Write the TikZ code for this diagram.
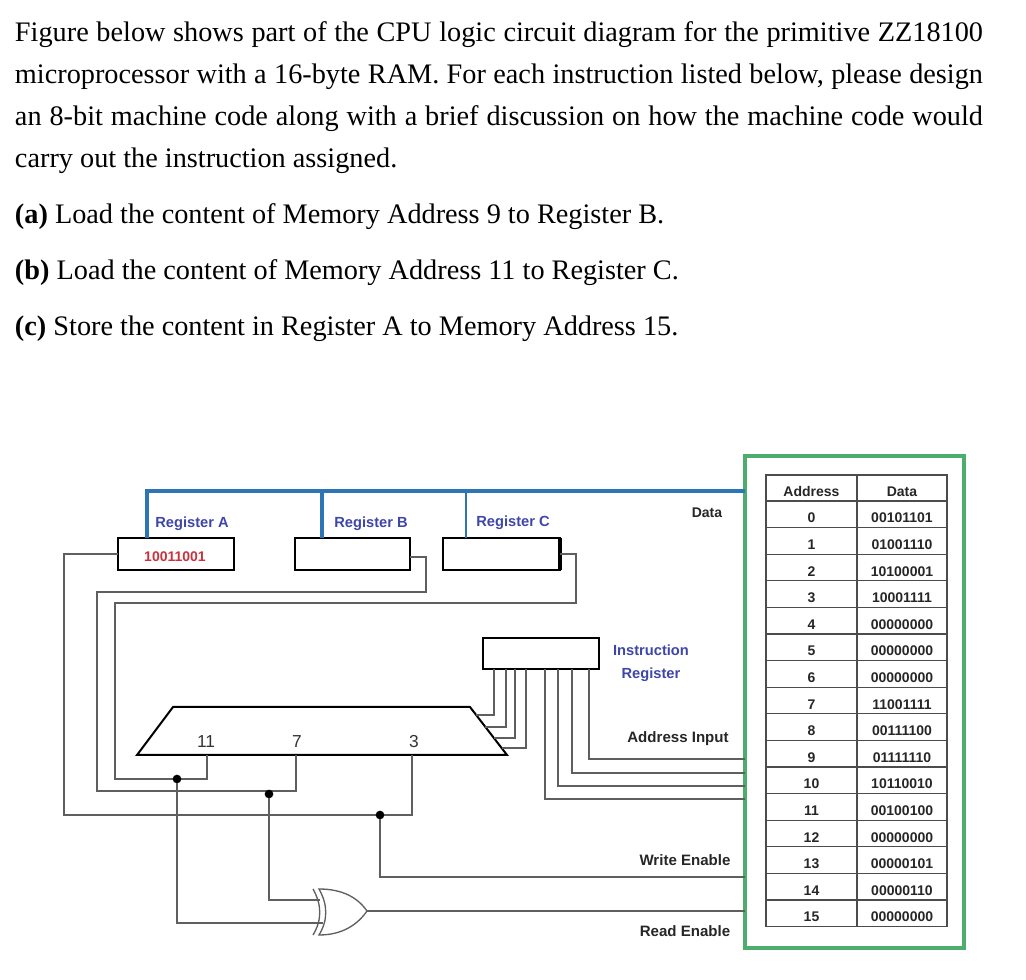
\documentclass[tikz,border=0pt]{standalone}
\usepackage{fontspec}
\setmainfont{Liberation Serif}
\setsansfont{Liberation Sans}
\usetikzlibrary{calc}
\definecolor{busblue}{RGB}{46,117,182}
\definecolor{ramgreen}{RGB}{76,173,108}
\definecolor{labelblue}{RGB}{62,70,168}
\definecolor{wiregray}{RGB}{95,95,95}
\definecolor{valuered}{RGB}{200,50,60}
\newcommand{\celltext}[1]{\raisebox{-6.5pt}[0pt][0pt]{#1}}
\tikzset{
	para/.style={anchor=north west,inner sep=0,outer sep=0,font=\fontsize{21.2}{31.5}\selectfont},
	reg/.style={draw=black,line width=1.5pt,minimum height=24pt,inner sep=0,outer sep=0},
	wire/.style={draw=wiregray,line width=1pt},
	bus/.style={draw=busblue,line width=2.6pt},
	joint/.style={circle,fill=black,minimum size=6.5pt,inner sep=0,outer sep=0},
	reglabel/.style={font=\sffamily\bfseries\fontsize{11}{13}\selectfont,text=labelblue,align=center},
	siglabel/.style={font=\sffamily\bfseries\fontsize{11.3}{13}\selectfont,text=black!85},
	bitlabel/.style={font=\sffamily\fontsize{13}{15}\selectfont,text=black!80},
	cell/.style={draw=black!70,line width=.8pt,minimum height=19.95pt,inner sep=0,outer sep=0,font=\sffamily\bfseries\fontsize{10.5}{13}\selectfont,text=black!85},
}
\begin{document}
\begin{tikzpicture}[x=.75pt,y=-.75pt]
	\useasboundingbox (0,0) rectangle (1026,980);
	\node[para,text width=726pt,align=justify] (intro) at (15,22) {Figure below shows part of the CPU logic circuit diagram for the primitive ZZ18100\linebreak microprocessor with a 16-byte RAM. For each instruction listed below, please design\linebreak an 8-bit machine code along with a brief discussion on how the machine code would\linebreak carry out the instruction assigned.};
	\foreach \n/\y/\t in {a/204/Load the content of Memory Address 9 to Register B.,b/260/Load the content of Memory Address 11 to Register C.,c/316/Store the content in Register A to Memory Address 15.} \node[para] (part\n) at (15,\y) {\textbf{(\n)} \t};

	\node[draw=ramgreen,line width=3pt,minimum width=164.25pt,minimum height=369pt,inner sep=0,outer sep=0] (ram) at (854.5,702) {};
	\node[cell,minimum width=68.25pt,anchor=north west] (addrhead) at (766,475) {\celltext{Address}};
	\node[cell,minimum width=67.5pt,anchor=north west] (datahead) at (857,475) {\celltext{Data}};
	\foreach \d [count=\i from 0] in {00101101,01001110,10100001,10001111,00000000,00000000,00000000,11001111,00111100,01111110,10110010,00100100,00000000,00000101,00000110,00000000} {
		\node[cell,minimum width=68.25pt,anchor=north west] (addr\i) at (766,501+26.6*\i) {\celltext{\i}};
		\node[cell,minimum width=67.5pt,anchor=north west] (data\i) at (857,501+26.6*\i) {\celltext{\d}};
	}

	\node[reg,minimum width=87pt] (regA) at (176,554) {};
	\node[reg,minimum width=86.25pt] (regB) at (352.5,554) {};
	\node[reg,minimum width=87.75pt] (regC) at (501.5,554) {};
	\node[reg,minimum width=87pt,minimum height=23.25pt] (instr) at (541,653.5) {};
	\coordinate (muxBL) at (137,755);
	\coordinate (muxTL) at (173,707);
	\coordinate (muxTR) at (470,707);
	\coordinate (muxBR) at (507,755);
	\draw[black,line width=1.5pt,line join=miter] (muxBL) -- (muxTL) -- (muxTR) -- (muxBR) -- cycle;
	\draw[line width=3.5pt] (regC.north east) -- (regC.south east);

	\coordinate (xorIn1) at (320,900);
	\coordinate (xorIn2) at (323,923);
	\coordinate (xorOut) at (367,911);
	\draw[wire] (313,889) .. controls (322,905) and (322,920) .. (313,935);
	\draw[wire] (319,889) .. controls (343,889) and (358,898) .. (xorOut) .. controls (358,924) and (343,935) .. (319,935) .. controls (328,920) and (328,905) .. cycle;

	\node[reglabel] (labelA) at (192,524) {Register A};
	\node[reglabel] (labelB) at (371,524) {Register B};
	\node[reglabel] (labelC) at (513,523) {Register C};
	\node[reglabel] (labelI) at (651,663) {Instruction\\[4pt]Register};
	\node[font=\sffamily\bfseries\fontsize{10.5}{13}\selectfont,text=valuered] (valueA) at (175,557) {10011001};
	\node[siglabel,font=\sffamily\bfseries\fontsize{10.5}{13}\selectfont] (labelD) at (707,513) {Data};
	\node[siglabel] (labelAI) at (678,739) {Address Input};
	\node[siglabel] (labelW) at (685,860) {Write Enable};
	\node[siglabel] (labelR) at (685,931) {Read Enable};
	\foreach \x/\b in {206/11,297/7,414/3} \node[bitlabel] (bit\b) at (\x,742) {\b};

	\draw[bus] (147,0 |- regA.north) |- (ram.west |- 0,491);
	\draw[bus] (322,0 |- regB.north) -- (322,491);
	\draw[bus,line width=1.8pt] (466,0 |- regC.north) -- (466,491);

	\draw[wire] (regA.west) -| (64,815) -| (412,0 |- muxBL);
	\draw[wire] (regB.east |- 0,557) -| (426,592) -| (97,791) -| (296,0 |- muxBL);
	\draw[wire] (regC.east) -| (576,603) -| (115,779) -| (207,0 |- muxBL);
	\node[joint] (jointC) at (177,779) {};
	\node[joint] (jointB) at (269,794) {};
	\node[joint] (jointA) at (380,815) {};
	\draw[wire] (jointC) |- (xorIn2);
	\draw[wire] (jointB) |- (xorIn1);
	\draw[wire] (jointA) |- (ram.west |- 0,877);
	\draw[wire] (xorOut) -- (ram.west |- xorOut);

	\foreach \x/\t in {494/.833,506/.583,515/.354,526/.146} \draw[wire] (\x,0 |- instr.south) |- ($(muxBR)!\t!(muxTR)$);
	\foreach \x/\y in {589/759,572/773,558/786,545/799} \draw[wire] (\x,0 |- instr.south) |- (ram.west |- 0,\y);
\end{tikzpicture}
\end{document}
